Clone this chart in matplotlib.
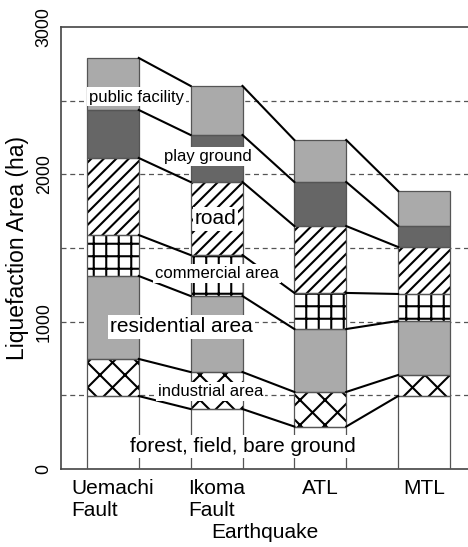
import matplotlib
matplotlib.use("Agg")
import matplotlib.pyplot as plt
import numpy as np

plt.rcParams['font.family'] = ['Liberation Sans', 'DejaVu Sans']
plt.rcParams['hatch.linewidth'] = 1.0

# Liquefaction area (ha) by land use
categories = ['Uemachi\nFault', 'Ikoma\nFault', 'ATL', 'MTL']
forest = [495, 407, 288, 495]
industrial = [252, 251, 235, 143]
residential = [563, 516, 427, 367]
commercial = [278, 278, 245, 183]
road = [523, 496, 454, 319]
play_ground = [326, 319, 299, 142]
public_facility = [353, 333, 285, 238]

layers = [forest, industrial, residential, commercial, road, play_ground, public_facility]
fills = ['white', 'white', '#aaaaaa', 'white', 'white', '#666666', '#aaaaaa']
hatches = [None, 'xx', None, '++', '////', None, None]

fig = plt.figure(figsize=(3.12, 3.6467), dpi=150)
ax = fig.add_axes([0.1303, 0.1426, 0.8697, 0.808])

x = np.arange(len(categories))
w = 0.5

# dashed guide lines
for yv in [500, 1000, 1500, 2000, 2500]:
    ax.axhline(yv, color='#555555', lw=0.6, ls=(0, (4, 3)), zorder=1)

bottom = np.zeros(len(categories))
tops = []
for vals, fc, h in zip(layers, fills, hatches):
    vals = np.array(vals, dtype=float)
    if h:
        ax.bar(x, vals, w, bottom=bottom, color=fc, edgecolor='black', hatch=h,
               linewidth=0, zorder=2)
    else:
        ax.bar(x, vals, w, bottom=bottom, color=fc, linewidth=0, zorder=2)
    ax.bar(x, vals, w, bottom=bottom, fill=False, edgecolor='#555555',
           linewidth=0.6, zorder=3)
    bottom = bottom + vals
    tops.append(bottom.copy())

# connecting lines between neighbouring bars
for t in tops:
    for i in range(len(categories) - 1):
        ax.plot([x[i] + w / 2, x[i + 1] - w / 2], [t[i], t[i + 1]],
                color='black', lw=1.0, zorder=4)

box = dict(facecolor='white', edgecolor='none', pad=1)
ax.text(0.23, 2525, 'public facility', fontsize=8, ha='center', va='center', bbox=box, zorder=5)
ax.text(0.92, 2118, 'play ground', fontsize=8, ha='center', va='center', bbox=box, zorder=5)
ax.text(0.99, 1697, 'road', fontsize=10, ha='center', va='center', bbox=box, zorder=5)
ax.text(1.0, 1330, 'commercial area', fontsize=8, ha='center', va='center', bbox=box, zorder=5)
ax.text(0.66, 964, 'residential area', fontsize=10, ha='center', va='center', bbox=box, zorder=5)
ax.text(0.94, 523, 'industrial area', fontsize=8, ha='center', va='center', bbox=box, zorder=5)
ax.text(1.25, 150, 'forest, field, bare ground', fontsize=10, ha='center', va='center', bbox=box, zorder=5)

ax.set_xlim(-0.5, 3.424)
ax.set_ylim(0, 3000)
ax.set_yticks([0, 1000, 2000, 3000])
ax.set_yticklabels(['0', '1000', '2000', '3000'], rotation=90, va='center', fontsize=8.5)
ax.set_xticks(x)
ax.set_xticklabels(categories, fontsize=10, multialignment='left')
ax.tick_params(axis='both', length=0)
ax.tick_params(axis='x', pad=5)
ax.tick_params(axis='y', pad=4)
ax.set_xlabel('Earthquake', fontsize=10, labelpad=1)
ax.set_ylabel('Liquefaction Area (ha)', fontsize=11, labelpad=3)

for s in ['left', 'top', 'bottom']:
    ax.spines[s].set_color('#444444')
    ax.spines[s].set_linewidth(0.8)
ax.spines['right'].set_visible(False)

fig.savefig('out.png', dpi=150)
